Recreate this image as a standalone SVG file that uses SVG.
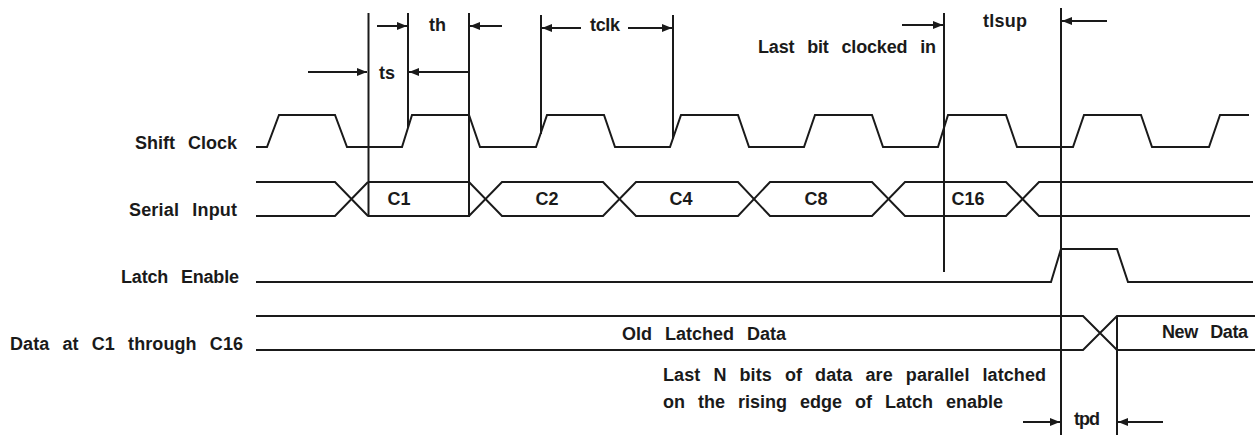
<svg xmlns="http://www.w3.org/2000/svg" width="1255" height="435" viewBox="0 0 1255 435">
<style>
.sig{fill:none;stroke:#1a1a1a;stroke-width:2;stroke-linejoin:miter}
.vl{stroke:#1a1a1a;stroke-width:2}
.ar{stroke:#1a1a1a;stroke-width:2;fill:none}
.arr{marker-end:url(#ah)}
text{font-family:"Liberation Sans",Arial,sans-serif;font-weight:bold;font-size:18px;fill:#1a1a1a;word-spacing:8px}
.c{text-anchor:middle}
</style>
<defs>
<marker id="ah" viewBox="0 0 10 8" refX="10" refY="4" markerWidth="10" markerHeight="8" markerUnits="userSpaceOnUse" orient="auto">
<path d="M0,0 L10,4 L0,8 Z" fill="#1a1a1a"/>
</marker>
</defs>
<rect width="1255" height="435" fill="#ffffff"/>

<g id="shift-clock">
<text x="135" y="149" textLength="102" lengthAdjust="spacing">Shift Clock</text>
<path class="sig" d="M256,147 H267 L279,115 H335 L347,147 H402 L412,115 H469 L480,147 H536 L547,115 H604 L615,147 H670 L681,115 H738 L749,147 H804 L815,115 H872 L883,147 H938 L948,115 H1006 L1017,147 H1073 L1084,115 H1141 L1152,147 H1209 L1220,115 H1249"/>
</g>

<g id="serial-input">
<text x="129" y="216" textLength="108" lengthAdjust="spacing">Serial Input</text>
<path class="sig" d="M256,182 H335 L368,216 M256,216 H335 L368,182"/>
<path class="sig" d="M368,182 H469 L502,216 H603 L636,182 H738 L770,216 H872 L905,182 H1006 L1039,216 H1250"/>
<path class="sig" d="M368,216 H469 L502,182 H603 L636,216 H738 L770,182 H872 L905,216 H1006 L1039,182 H1253"/>
<text class="c" x="399" y="205">C1</text>
<text class="c" x="547" y="205">C2</text>
<text class="c" x="681" y="205">C4</text>
<text class="c" x="816" y="205">C8</text>
<text class="c" x="968" y="205">C16</text>
</g>

<g id="latch-enable">
<text x="121" y="283" textLength="118" lengthAdjust="spacing">Latch Enable</text>
<path class="sig" d="M256,282 H1051 L1061,249 H1117 L1128,282 H1253"/>
</g>

<g id="data-out">
<text x="10" y="350" textLength="233" lengthAdjust="spacing">Data at C1 through C16</text>
<path class="sig" d="M256,316 H1083 L1117,350 H1255 M256,350 H1083 L1117,316 H1255"/>
<text x="622" y="340" textLength="164" lengthAdjust="spacing">Old Latched Data</text>
<text x="1162" y="338" textLength="86" lengthAdjust="spacing">New Data</text>
</g>

<g id="notes">
<text x="758" y="53" textLength="178" lengthAdjust="spacing">Last bit clocked in</text>
<text x="663" y="381" textLength="383" lengthAdjust="spacing">Last N bits of data are parallel latched</text>
<text x="663" y="408" textLength="340" lengthAdjust="spacing">on the rising edge of Latch enable</text>
</g>

<g id="connectors">
<line class="vl" x1="368.5" y1="13" x2="368.5" y2="217"/>
<line class="vl" x1="408" y1="13" x2="408" y2="128"/>
<line class="vl" x1="469" y1="13" x2="469" y2="217"/>
<line class="vl" x1="541" y1="15" x2="541" y2="134"/>
<line class="vl" x1="673" y1="15" x2="673" y2="139"/>
<line class="vl" x1="944" y1="13" x2="944" y2="272"/>
<line class="vl" x1="1061" y1="8" x2="1061" y2="435"/>
<line class="vl" x1="1117" y1="316" x2="1117" y2="435"/>

<line class="ar arr" x1="377" y1="26" x2="407" y2="26"/>
<line class="ar arr" x1="502" y1="26" x2="470" y2="26"/>
<line class="ar arr" x1="308" y1="72" x2="367" y2="72"/>
<line class="ar arr" x1="469" y1="72" x2="409" y2="72"/>
<line class="ar arr" x1="581" y1="28" x2="542" y2="28"/>
<line class="ar arr" x1="628" y1="28" x2="672" y2="28"/>
<line class="ar arr" x1="902" y1="25" x2="943" y2="25"/>
<line class="ar arr" x1="1107" y1="21" x2="1062" y2="21"/>
<line class="ar arr" x1="1023" y1="422" x2="1060" y2="422"/>
<line class="ar arr" x1="1163" y1="422" x2="1118" y2="422"/>

<text x="379" y="79">ts</text>
<text x="429" y="31">th</text>
<text x="590" y="31" textLength="30" lengthAdjust="spacing">tclk</text>
<text x="983" y="27" textLength="44" lengthAdjust="spacing">tlsup</text>
<text x="1074" y="425" textLength="26" lengthAdjust="spacing">tpd</text>
</g>
</svg>
